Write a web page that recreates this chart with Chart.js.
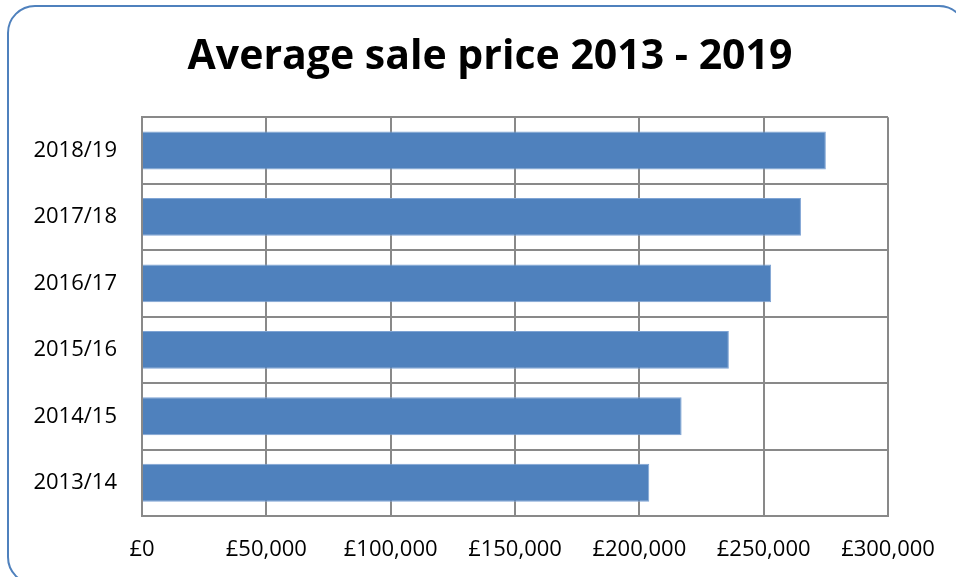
<!DOCTYPE html>
<html lang="en">
<head>
  <meta charset="UTF-8">
  <title>Average sale price 2013 - 2019</title>
  <style>
    html, body { margin: 0; padding: 0; background: #fff; overflow: hidden; }
    #wrap { position: relative; width: 956px; height: 577px; }
    #frame {
      position: absolute; left: 7px; top: 5px; width: 960px; height: 580px;
      border: 2px solid #4f81bd; border-radius: 28px; box-sizing: border-box;
      pointer-events: none;
    }
    canvas { position: absolute; left: 0; top: 0; }
  </style>
</head>
<body>
<div id="wrap">
  <div id="frame"></div>
  <canvas id="myChart" width="956" height="577"></canvas>
</div>

<script src="https://cdn.jsdelivr.net/npm/chart.js"></script>
<script>
const years = ['2013/14', '2014/15', '2015/16', '2016/17', '2017/18', '2018/19'];
const avgPrice = [204000, 217000, 236000, 253000, 265000, 275000];
const priceTicks = [0, 50000, 100000, 150000, 200000, 250000, 300000];

const labelFont = { family: "'Open Sans', 'Noto Sans', sans-serif", size: 22 };
const gridColor = '#898989';

const ctx = document.getElementById('myChart').getContext('2d');
const myChart = new Chart(ctx, {
  type: 'bar',
  data: {
    labels: years,
    datasets: [{
      data: avgPrice,
      backgroundColor: '#4f81bd',
      borderColor: '#7fa4d4',
      borderWidth: 1,
      barPercentage: 1,
      categoryPercentage: 0.57
    }]
  },
  options: {
    indexAxis: 'y',
    responsive: false,
    animation: false,
    layout: { padding: { left: 24, right: 0, top: 0, bottom: 0 } },
    scales: {
      x: {
        min: 0,
        max: 300000,
        afterBuildTicks: (axis) => { axis.ticks = priceTicks.map(v => ({ value: v })); },
        afterFit: (axis) => { axis.height = 577 - 516; },
        grid: { color: gridColor, lineWidth: 2, drawTicks: false },
        border: { color: gridColor, width: 2 },
        ticks: {
          color: '#000',
          font: labelFont,
          padding: 21,
          maxRotation: 0,
          autoSkip: false,
          callback: (v) => '£' + v.toLocaleString('en-GB')
        }
      },
      y: {
        reverse: true,
        afterFit: (axis) => { axis.width = 142 - 24; },
        grid: { color: gridColor, lineWidth: 2, drawTicks: false, offset: true },
        border: { color: gridColor, width: 2 },
        ticks: { color: '#000', font: labelFont, padding: 25 }
      },
      // empty strip on the right so the plot ends at 888
      spacer: {
        type: 'linear',
        axis: 'y',
        position: 'right',
        afterFit: (axis) => { axis.width = 956 - 888; },
        grid: { display: false, drawTicks: false },
        border: { display: false },
        ticks: { display: false }
      }
    },
    plugins: {
      legend: { display: false },
      tooltip: { enabled: false },
      title: {
        display: true,
        text: 'Average sale price 2013 - 2019',
        color: '#000',
        font: { family: "'Open Sans', 'Noto Sans', sans-serif", size: 41, weight: 'bold' },
        padding: { top: 33, bottom: 35 }
      }
    }
  }
});
</script>
</body>
</html>
